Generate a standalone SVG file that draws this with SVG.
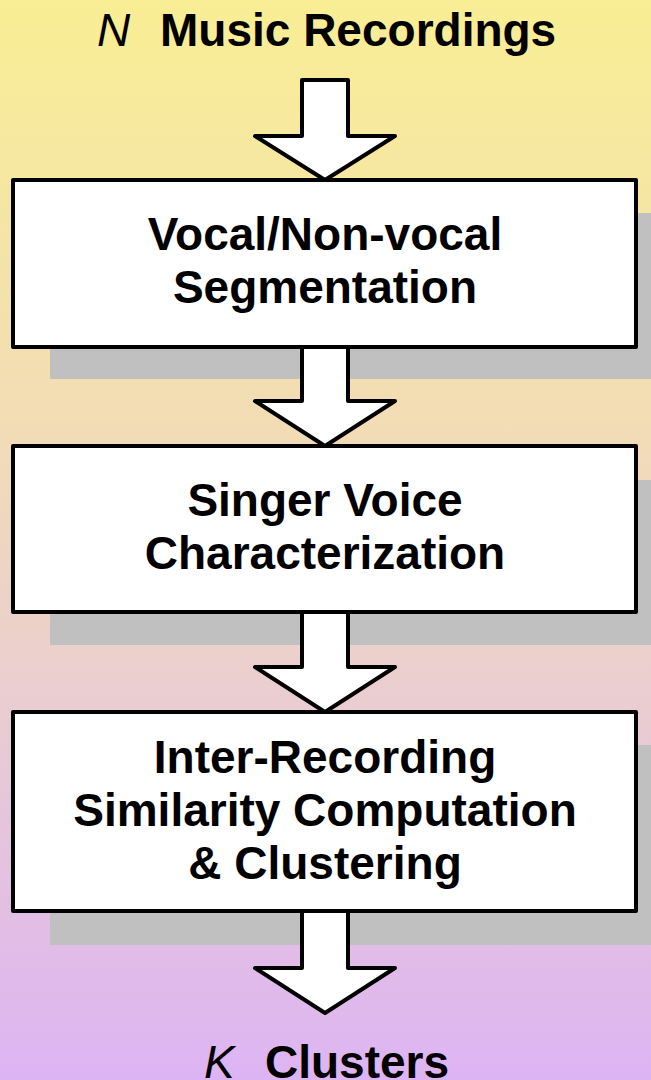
<svg xmlns="http://www.w3.org/2000/svg" width="651" height="1080" viewBox="0 0 651 1080">
<defs>
<linearGradient id="bg" x1="0" y1="0" x2="0" y2="1">
<stop offset="0" stop-color="#F9EE94"/>
<stop offset="0.38" stop-color="#F2DDB4"/>
<stop offset="0.62" stop-color="#EBCFCE"/>
<stop offset="1" stop-color="#DDB4F3"/>
</linearGradient>
<style>
.shadow{fill:#C0C0C0}
.box{fill:#FFFFFF;stroke:#000;stroke-width:4;stroke-linejoin:round}
.arrow{fill:#FFFFFF;stroke:#000;stroke-width:4;stroke-linejoin:round}
.t{font-family:"Liberation Sans",Arial,sans-serif;font-weight:bold;font-size:46px;fill:#000;text-anchor:middle}
.lbl{font-family:"Liberation Sans",Arial,sans-serif;font-size:46px;fill:#000}
.it{font-style:italic;font-weight:normal}
.bd{font-weight:bold}
</style>
</defs>
<rect x="0" y="0" width="651" height="1080" fill="url(#bg)"/>
<g id="input-label">
<text class="lbl" x="97" y="46"><tspan class="it">N</tspan><tspan class="bd" x="160">Music Recordings</tspan></text>
</g>
<g id="node1">
<rect class="shadow" x="50" y="213" width="601" height="166"/>
<rect class="box" x="13" y="180" width="623" height="167"/>
<text class="t" x="325" y="250">Vocal/Non-vocal</text>
<text class="t" x="325" y="303">Segmentation</text>
</g>
<g id="node2">
<rect class="shadow" x="50" y="480" width="601" height="165"/>
<rect class="box" x="13" y="446" width="623" height="166"/>
<text class="t" x="325" y="516">Singer Voice</text>
<text class="t" x="325" y="569">Characterization</text>
</g>
<g id="node3">
<rect class="shadow" x="50" y="745" width="601" height="200"/>
<rect class="box" x="13" y="712" width="623" height="199"/>
<text class="t" x="325" y="773">Inter-Recording</text>
<text class="t" x="325" y="826">Similarity Computation</text>
<text class="t" x="325" y="879">&amp; Clustering</text>
</g>
<g id="output-label">
<text class="lbl" x="204" y="1078"><tspan class="it">K</tspan><tspan class="bd" x="265">Clusters</tspan></text>
</g>
<g id="connectors">
<path class="arrow" d="M302,80 H348 V136 H395 L325,180 L255,136 H302 Z"/>
<path class="arrow" d="M302,347 H348 V401 H395 L325,446 L255,401 H302 Z"/>
<path class="arrow" d="M302,612 H348 V667 H395 L325,712 L255,667 H302 Z"/>
<path class="arrow" d="M302,911 H348 V968 H395 L325,1013 L255,968 H302 Z"/>
</g>
</svg>
